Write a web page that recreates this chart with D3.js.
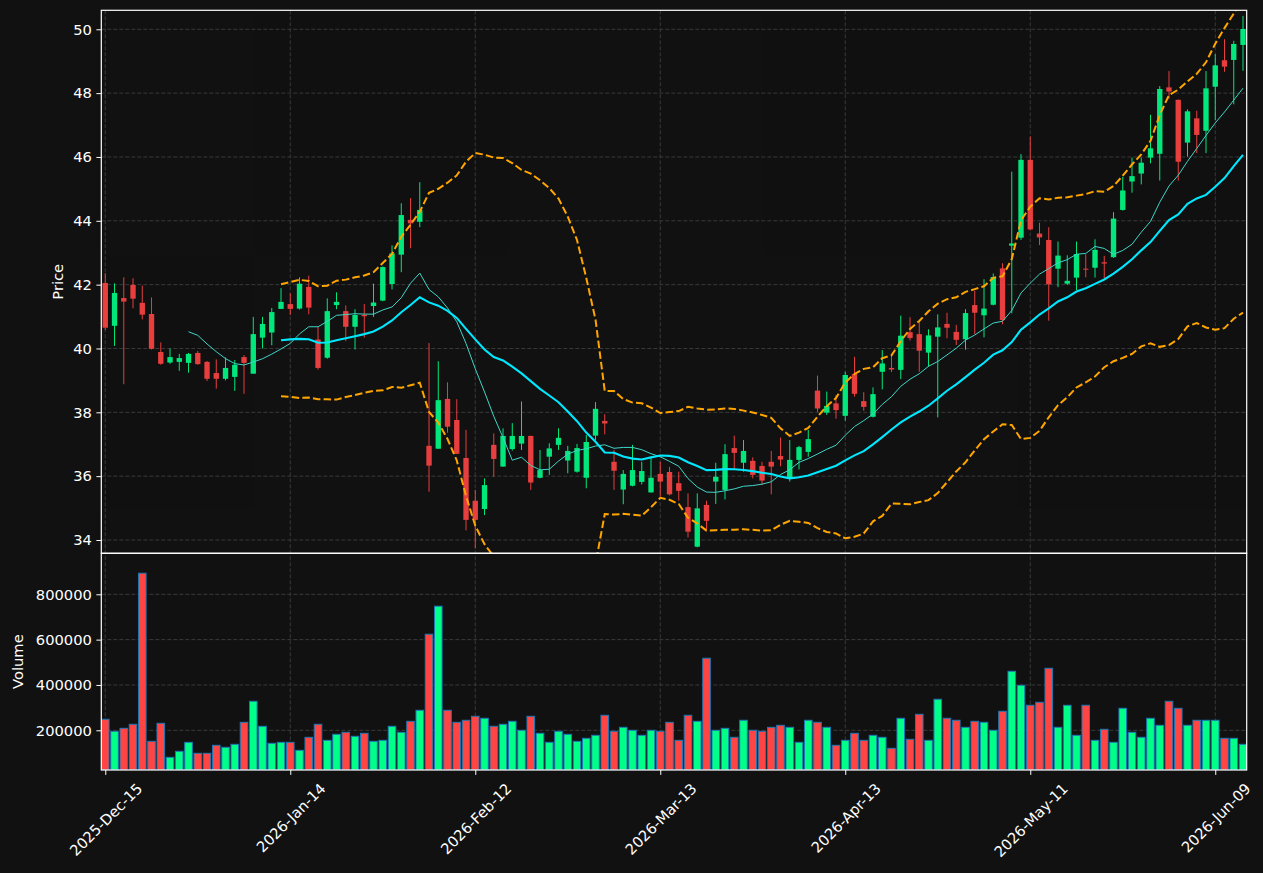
<!DOCTYPE html>
<html lang="en">
<head>
<meta charset="UTF-8">
<title>Price / Volume candlestick chart</title>
<style>
    html, body { margin: 0; padding: 0; background: #111111; }
    svg { display: block; }
</style>
</head>
<body>
<svg width="1263" height="873"></svg>
<script src="https://d3js.org/d3.v7.min.js"></script>
<script>
// ---- data ----
const opens = [
    42.05, 40.71, 41.58, 41.99, 41.43, 41.08, 39.89, 39.56, 39.58, 39.55,
    39.86, 39.58, 39.23, 39.05, 39.11, 39.73, 39.21, 40.34, 40.50, 41.24,
    41.39, 41.25, 41.93, 40.28, 39.71, 41.36, 41.17, 40.68, 41.05, 41.33,
    41.50, 42.02, 42.94, 44.03, 43.97, 36.95, 36.86, 38.42, 37.76, 36.57,
    35.23, 34.97, 36.98, 36.30, 36.85, 37.02, 37.26, 35.95, 36.61, 36.98,
    36.49, 36.14, 35.95, 37.27, 37.73, 36.45, 35.58, 35.70, 35.82, 35.49,
    36.07, 36.13, 35.78, 35.03, 33.79, 35.10, 35.83, 35.57, 36.88, 36.42,
    36.48, 36.32, 36.45, 36.63, 35.95, 36.51, 36.76, 38.68, 37.99, 38.28,
    37.89, 39.20, 38.35, 37.86, 39.27, 39.39, 39.33, 40.51, 40.45, 39.87,
    40.37, 40.77, 40.52, 40.29, 41.36, 41.04, 41.37, 42.51, 43.22, 43.47,
    45.91, 43.60, 43.40, 42.50, 42.03, 42.22, 42.50, 42.53, 42.70, 42.86,
    44.34, 45.23, 45.48, 45.98, 46.10, 48.18, 47.79, 46.45, 47.21, 46.82,
    48.20, 49.03, 49.04, 49.51
];
const highs = [
    42.36, 42.04, 42.23, 42.20, 41.97, 41.60, 40.19, 40.00, 39.83, 39.86,
    39.92, 39.61, 39.66, 39.72, 39.64, 39.79, 40.99, 40.99, 41.27, 41.89,
    41.73, 42.23, 42.28, 40.68, 41.57, 41.76, 41.35, 41.23, 41.39, 42.03,
    42.57, 43.23, 44.55, 44.71, 45.21, 40.17, 39.60, 38.94, 38.41, 37.45,
    35.57, 35.93, 37.34, 37.50, 37.66, 38.34, 37.27, 36.82, 37.03, 37.50,
    36.95, 37.01, 37.29, 38.32, 37.94, 36.82, 36.19, 36.98, 36.45, 36.56,
    36.45, 36.29, 36.14, 35.46, 35.46, 35.23, 36.42, 37.00, 37.27, 37.13,
    36.59, 36.45, 36.79, 37.21, 37.13, 36.95, 37.45, 39.15, 38.65, 38.54,
    39.27, 39.74, 38.63, 38.78, 39.95, 39.80, 41.03, 40.98, 40.84, 40.60,
    41.07, 41.12, 40.74, 41.23, 41.81, 42.17, 42.35, 42.67, 45.54, 46.09,
    46.64, 43.94, 43.80, 43.35, 42.92, 43.35, 42.95, 43.42, 42.90, 44.27,
    45.38, 45.98, 45.98, 47.32, 48.22, 48.69, 47.80, 47.49, 47.45, 48.69,
    49.22, 49.69, 49.64, 50.42
];
const lows = [
    40.58, 40.08, 38.88, 41.26, 40.91, 39.97, 39.49, 39.52, 39.30, 39.24,
    39.49, 38.98, 38.74, 39.00, 38.67, 38.58, 39.21, 40.00, 40.10, 41.24,
    41.05, 41.22, 41.07, 39.34, 39.68, 41.23, 40.23, 39.97, 40.34, 40.99,
    41.48, 41.85, 42.39, 43.14, 43.80, 35.51, 36.86, 37.36, 36.69, 34.30,
    33.74, 34.78, 35.98, 36.30, 36.80, 36.82, 35.57, 35.93, 36.04, 36.82,
    36.09, 36.11, 35.62, 37.13, 37.31, 35.57, 35.12, 35.68, 35.74, 35.49,
    35.36, 35.40, 35.23, 34.08, 33.77, 34.31, 35.13, 35.27, 36.19, 36.14,
    35.93, 35.72, 35.43, 36.31, 35.83, 36.21, 36.61, 38.02, 37.92, 37.80,
    37.74, 38.49, 38.05, 37.84, 38.72, 39.26, 39.04, 40.25, 39.27, 39.43,
    37.84, 40.32, 40.11, 39.96, 40.45, 40.35, 41.35, 40.76, 41.10, 43.40,
    43.70, 43.24, 40.87, 41.92, 41.99, 41.83, 42.23, 42.22, 42.20, 42.84,
    44.32, 44.88, 45.14, 45.80, 45.26, 47.81, 45.26, 46.01, 46.12, 46.12,
    47.16, 48.67, 47.65, 48.70
];
const closes = [
    40.65, 41.74, 41.47, 41.56, 41.06, 39.99, 39.52, 39.73, 39.70, 39.83,
    39.51, 39.05, 39.05, 39.39, 39.49, 39.55, 40.45, 40.77, 41.14, 41.46,
    41.24, 42.03, 41.28, 39.39, 41.17, 41.46, 40.68, 41.05, 41.01, 41.44,
    42.55, 42.98, 44.18, 43.92, 44.34, 36.33, 38.38, 37.55, 36.70, 34.63,
    34.63, 35.72, 36.54, 37.26, 37.26, 37.26, 35.80, 36.19, 36.87, 37.20,
    36.79, 36.88, 37.07, 38.11, 37.65, 36.17, 36.07, 36.19, 36.16, 35.95,
    35.83, 35.43, 35.54, 34.26, 34.99, 34.60, 35.98, 36.69, 36.73, 36.79,
    36.04, 35.86, 36.30, 36.52, 36.51, 36.91, 37.16, 38.12, 38.20, 38.07,
    39.17, 38.58, 38.17, 38.57, 39.53, 39.34, 40.40, 40.33, 39.93, 40.41,
    40.66, 40.65, 40.27, 41.11, 41.12, 41.25, 42.24, 40.89, 43.29, 45.91,
    43.73, 43.48, 42.01, 42.91, 42.12, 42.96, 42.47, 43.09, 42.66, 44.07,
    44.95, 45.40, 45.82, 46.27, 48.13, 48.05, 45.85, 47.43, 46.69, 48.15,
    48.87, 48.83, 49.54, 50.01
];
const volumes = [
    248600, 195600, 208800, 226500, 893000, 151400, 230900, 80800, 107300, 147000,
    98500, 98500, 133800, 125000, 138200, 235300, 328000, 217700, 142600, 147000,
    147000, 111700, 169100, 226500, 155800, 182300, 191200, 173500, 186800, 151400,
    155800, 217700, 191200, 239700, 288300, 623800, 747500, 288300, 235300, 244200,
    261800, 253000, 217700, 226500, 239700, 200000, 261800, 186800, 147000, 195600,
    182300, 151400, 164700, 177900, 266200, 195600, 213200, 200000, 177900, 200000,
    195600, 235300, 155800, 266200, 239700, 517900, 200000, 208800, 169100, 244200,
    200000, 195600, 213200, 222100, 213200, 147000, 244200, 235300, 213200, 133800,
    155800, 186800, 155800, 177900, 169100, 120500, 253000, 160300, 270600, 155800,
    336900, 253000, 244200, 213200, 239700, 235300, 200000, 283900, 460500, 398700,
    310400, 323600, 473700, 213200, 310400, 177900, 310400, 155800, 204400, 147000,
    297100, 191200, 169100, 253000, 222100, 328000, 297100, 222100, 244200, 244200,
    244200, 164700, 164700, 138200
];
// trading calendar: weekdays from the first session, minus exchange holidays
const firstSession = "2025-12-15";
const holidays = ["2025-12-25", "2026-01-01", "2026-01-19", "2026-02-16", "2026-04-03", "2026-05-25"];
const priceTicks = [34, 36, 38, 40, 42, 44, 46, 48, 50];
const volumeTicks = [200000, 400000, 600000, 800000];
const dateTickEvery = 20;

// ---- layout ----
const svg = d3.select("svg");
const W = +svg.attr("width"), H = +svg.attr("height");
const left = 101.3, right = 1246.7;
const priceTop = 10.3, priceBottom = 553.3;
const volTop = 553.3, volBottom = 770;
const fs = 14.7;
const font = "DejaVu Sans";
const upColor = "#00ff88", downColor = "#ff4444";

svg.append("rect").attr("width", W).attr("height", H).attr("fill", "#111111");

const parse = d3.utcParse("%Y-%m-%d");
const fmtKey = d3.utcFormat("%Y-%m-%d");
const dates = [];
for (let d = parse(firstSession); dates.length < closes.length; d = d3.utcDay.offset(d, 1)) {
    const wd = d.getUTCDay();
    if (wd === 0 || wd === 6 || holidays.includes(fmtKey(d))) continue;
    dates.push(d);
}
const fmtTick = d3.utcFormat("%Y-%b-%d");

const n = closes.length;
const idx = d3.range(n);
const x = d3.scaleLinear().domain([-0.43, n - 1 + 0.4]).range([left, right]);
const step = x(1) - x(0);
const yP = d3.scaleLinear().domain([33.583, 50.595]).range([priceBottom, priceTop]);
const yV = d3.scaleLinear().domain([24850, 980900]).range([volBottom, volTop]);

// indicators: 10/20 sessions moving averages, 20-session bands at 2 std (population)
const sma = (arr, p) => arr.map((v, i) => i < p - 1 ? null : d3.mean(arr.slice(i - p + 1, i + 1)));
const pstd = a => { const m = d3.mean(a); return Math.sqrt(d3.mean(a, v => (v - m) * (v - m))); };
const ma10 = sma(closes, 10);
const ma20 = sma(closes, 20);
const sd20 = closes.map((v, i) => i < 19 ? null : pstd(closes.slice(i - 19, i + 1)));
const bbUpper = ma20.map((m, i) => m == null ? null : m + 2 * sd20[i]);
const bbLower = ma20.map((m, i) => m == null ? null : m - 2 * sd20[i]);

const defs = svg.append("defs");
defs.append("clipPath").attr("id", "clipP").append("rect")
    .attr("x", left).attr("y", priceTop).attr("width", right - left).attr("height", priceBottom - priceTop);
defs.append("clipPath").attr("id", "clipV").append("rect")
    .attr("x", left).attr("y", volTop).attr("width", right - left).attr("height", volBottom - volTop);

// ---- grid ----
const tickIdx = idx.filter(i => i % dateTickEvery === 0);
const grid = svg.append("g").attr("stroke", "#3a3a3a").attr("stroke-width", 1).attr("stroke-dasharray", "4,2");
grid.selectAll(".vg").data(tickIdx).join("line")
    .attr("x1", d => x(d)).attr("x2", d => x(d)).attr("y1", priceTop).attr("y2", volBottom);
grid.selectAll(".hp").data(priceTicks).join("line").attr("class", "hp")
    .attr("x1", left).attr("x2", right).attr("y1", d => yP(d)).attr("y2", d => yP(d));
grid.selectAll(".hv").data(volumeTicks).join("line").attr("class", "hv")
    .attr("x1", left).attr("x2", right).attr("y1", d => yV(d)).attr("y2", d => yV(d));

// ---- candles ----
const gc = svg.append("g").attr("clip-path", "url(#clipP)").attr("opacity", 0.9);
const col = i => closes[i] >= opens[i] ? upColor : downColor;
gc.selectAll(".wick").data(idx).join("line")
    .attr("x1", i => x(i)).attr("x2", i => x(i))
    .attr("y1", i => yP(highs[i])).attr("y2", i => yP(lows[i]))
    .attr("stroke", col).attr("stroke-width", 1);
const bw = step * 0.58;
gc.selectAll(".body").data(idx).join("rect")
    .attr("x", i => x(i) - bw / 2).attr("width", bw)
    .attr("y", i => yP(Math.max(opens[i], closes[i])))
    .attr("height", i => Math.max(1, Math.abs(yP(opens[i]) - yP(closes[i]))))
    .attr("fill", col);

// ---- indicator lines ----
const gl = svg.append("g").attr("clip-path", "url(#clipP)").attr("fill", "none");
const line = d3.line().defined(d => d != null).x((d, i) => x(i)).y(d => yP(d));
[bbUpper, bbLower].forEach(s => gl.append("path").attr("d", line(s))
    .attr("stroke", "#ffa500").attr("stroke-width", 2).attr("stroke-dasharray", "7.5,3.2"));
gl.append("path").attr("d", line(ma10)).attr("stroke", "#3fd6c8").attr("stroke-width", 1);
gl.append("path").attr("d", line(ma20)).attr("stroke", "#00e8ff").attr("stroke-width", 2.1);

// ---- volume ----
const vw = step * 0.82;
svg.append("g").attr("clip-path", "url(#clipV)")
    .selectAll("rect").data(idx).join("rect")
    .attr("x", i => x(i) - vw / 2).attr("width", vw)
    .attr("y", i => yV(volumes[i])).attr("height", i => volBottom - yV(volumes[i]))
    .attr("fill", col).attr("stroke", "#1f77b4").attr("stroke-width", 1);

// ---- axes ----
function styleAxis(g) {
    g.select(".domain").remove();
    g.attr("font-family", font).attr("font-size", fs);
    g.selectAll("line").attr("stroke", "#ffffff");
    g.selectAll("text").attr("fill", "#ffffff");
}
svg.append("g").attr("transform", `translate(${left},0)`)
    .call(d3.axisLeft(yP).tickValues(priceTicks).tickSize(4.9).tickPadding(4.5).tickFormat(d3.format("d")))
    .call(styleAxis);
svg.append("g").attr("transform", `translate(${left},0)`)
    .call(d3.axisLeft(yV).tickValues(volumeTicks).tickSize(4.9).tickPadding(4.5).tickFormat(d3.format("d")))
    .call(styleAxis);
const gx = svg.append("g").attr("transform", `translate(0,${volBottom})`)
    .call(d3.axisBottom(x).tickValues(tickIdx).tickSize(4.9).tickFormat(i => fmtTick(dates[i])))
    .call(styleAxis);
gx.selectAll("text").each(function () {
    const t = d3.select(this).attr("y", null).attr("dy", null)
        .attr("text-anchor", "middle").attr("dominant-baseline", "central");
    const w = this.getComputedTextLength();
    const off = 9.7 + (w + fs * 1.16) / (2 * Math.SQRT2);
    t.attr("transform", `translate(0,${off}) rotate(-45)`);
});

// ---- spines ----
[[priceTop, priceBottom], [volTop, volBottom]].forEach(([t, b]) =>
    svg.append("rect").attr("x", left).attr("y", t).attr("width", right - left).attr("height", b - t)
        .attr("fill", "none").attr("stroke", "#ffffff").attr("stroke-width", 1.2));

// ---- axis titles ----
svg.append("text").attr("transform", `translate(57,${(priceTop + priceBottom) / 2}) rotate(-90)`)
    .attr("text-anchor", "middle").attr("dominant-baseline", "central")
    .attr("font-family", font).attr("font-size", fs).attr("fill", "#ffffff").text("Price");
svg.append("text").attr("transform", `translate(17.5,${(volTop + volBottom) / 2}) rotate(-90)`)
    .attr("text-anchor", "middle").attr("dominant-baseline", "central")
    .attr("font-family", font).attr("font-size", fs).attr("fill", "#ffffff").text("Volume");
</script>
</body>
</html>
